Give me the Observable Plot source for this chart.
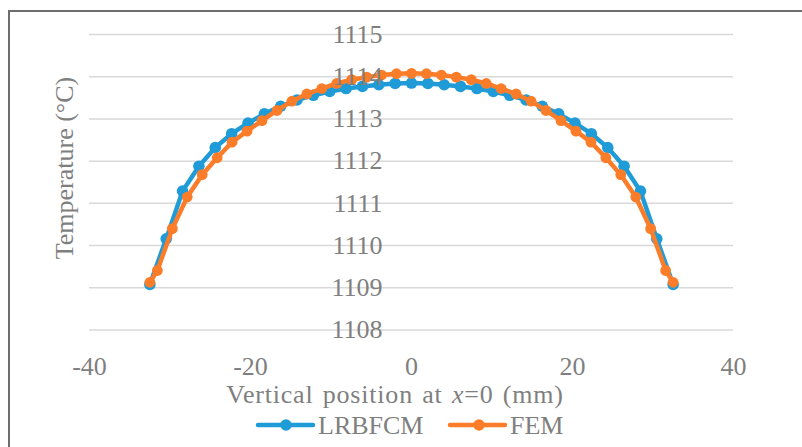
<!DOCTYPE html>
<html>
<head>
<meta charset="utf-8">
<script src="https://cdn.jsdelivr.net/npm/d3@7"></script>
<script src="https://cdn.jsdelivr.net/npm/@observablehq/plot@0.6"></script>
<style>
  html, body { margin: 0; padding: 0; background: #fff; }
  body { width: 802px; height: 447px; overflow: hidden; position: relative; font-family: "Liberation Serif", serif; color: #7f7f7f; }
  #frame { position: absolute; left: 8px; top: 10px; width: 900px; height: 500px; border: 2px solid #6e6e6e; box-sizing: border-box; }
  #chart { position: absolute; left: 0; top: 0; }
  .title { position: absolute; font-size: 26px; line-height: 26px; white-space: nowrap; color: #7f7f7f; }
  #xtitle { left: 0; width: 790px; text-align: center; top: 382px; letter-spacing: 0.8px; word-spacing: 2px; }
  #ytitle { left: 65px; top: 168px; transform: translate(-50%, -50%) rotate(-90deg); }
  #legend { position: absolute; left: 0; top: 410px; }
</style>
</head>
<body>
<div id="frame"></div>
<div id="chart"></div>
<div class="title" id="xtitle">Vertical position at <i>x</i>=0 (mm)</div>
<div class="title" id="ytitle">Temperature (°C)</div>
<div id="legend"></div>
<script>
const seriesNames = ["LRBFCM", "FEM"];
const seriesColors = ["#1f9bd7", "#fb7d29"];
const xTicks = [-40, -20, 0, 20, 40];
const yTicks = [1108, 1109, 1110, 1111, 1112, 1113, 1114, 1115];

const lrbfcmX = [-32.5, -30.47, -28.44, -26.41, -24.38, -22.34, -20.31, -18.28, -16.25, -14.22, -12.19, -10.16, -8.13, -6.09, -4.06, -2.03, 0,
                 2.03, 4.06, 6.09, 8.13, 10.16, 12.19, 14.22, 16.25, 18.28, 20.31, 22.34, 24.38, 26.41, 28.44, 30.47, 32.5];
const lrbfcmT = [1109.08, 1110.16, 1111.29, 1111.88, 1112.32, 1112.65, 1112.90, 1113.12, 1113.30, 1113.45, 1113.56, 1113.65, 1113.72, 1113.77, 1113.81, 1113.84, 1113.85,
                 1113.84, 1113.81, 1113.77, 1113.72, 1113.65, 1113.56, 1113.45, 1113.30, 1113.12, 1112.90, 1112.65, 1112.32, 1111.88, 1111.29, 1110.16, 1109.08];

const femX = [-32.5, -31.57, -29.71, -27.86, -26.0, -24.14, -22.29, -20.43, -18.57, -16.71, -14.86, -13.0, -11.14, -9.29, -7.43, -5.57, -3.71, -1.86, 0,
              1.86, 3.71, 5.57, 7.43, 9.29, 11.14, 13.0, 14.86, 16.71, 18.57, 20.43, 22.29, 24.14, 26.0, 27.86, 29.71, 31.57, 32.5];
const femT = [1109.13, 1109.41, 1110.40, 1111.15, 1111.68, 1112.08, 1112.45, 1112.71, 1112.96, 1113.20, 1113.42, 1113.59, 1113.72, 1113.84, 1113.93, 1113.99, 1114.04, 1114.07, 1114.08,
              1114.07, 1114.04, 1113.99, 1113.93, 1113.84, 1113.72, 1113.59, 1113.42, 1113.20, 1112.96, 1112.71, 1112.45, 1112.08, 1111.68, 1111.15, 1110.40, 1109.41, 1109.13];

const lrbfcm = lrbfcmX.map((x, i) => ({x, t: lrbfcmT[i]}));
const fem = femX.map((x, i) => ({x, t: femT[i]}));

const chart = Plot.plot({
  width: 802,
  height: 400,
  marginTop: 34,
  marginBottom: 70.5,
  marginLeft: 89,
  marginRight: 69,
  x: {domain: [-40, 40], axis: null},
  y: {domain: [1108, 1115], axis: null},
  style: {fontFamily: "Liberation Serif", fontSize: "26px", background: "transparent", overflow: "visible"},
  marks: [
    Plot.ruleY(yTicks, {y: d => d, stroke: "#d9d9d9", strokeWidth: 1.5}),
    Plot.line(lrbfcm, {x: "x", y: "t", stroke: seriesColors[0], strokeWidth: 4.5}),
    Plot.dot(lrbfcm, {x: "x", y: "t", r: 5.8, fill: seriesColors[0], stroke: "none"}),
    Plot.line(fem, {x: "x", y: "t", stroke: seriesColors[1], strokeWidth: 4.5}),
    Plot.dot(fem, {x: "x", y: "t", r: 5.4, fill: seriesColors[1], stroke: "none"}),
    Plot.text(yTicks, {x: 0, y: d => d, text: d => String(d), dx: -29, textAnchor: "end", fill: "#7f7f7f", fontSize: 26}),
    Plot.text(xTicks, {x: d => d, y: 1108, dy: 37, text: d => String(d), fill: "#7f7f7f", fontSize: 26})
  ]
});
document.getElementById("chart").appendChild(chart);

// legend
const lg = d3.select("#legend").append("svg").attr("width", 802).attr("height", 30);
const legendItems = [
  {name: seriesNames[0], color: seriesColors[0], x0: 258, x1: 313, cx: 286, tx: 318},
  {name: seriesNames[1], color: seriesColors[1], x0: 450, x1: 505, cx: 479, tx: 510}
];
for (const it of legendItems) {
  lg.append("line").attr("x1", it.x0).attr("x2", it.x1).attr("y1", 15).attr("y2", 15)
    .attr("stroke", it.color).attr("stroke-width", 4.5).attr("stroke-linecap", "round");
  lg.append("circle").attr("cx", it.cx).attr("cy", 15).attr("r", 5.8).attr("fill", it.color);
  lg.append("text").attr("x", it.tx).attr("y", 15).attr("dominant-baseline", "central")
    .attr("font-family", "Liberation Serif").attr("font-size", 26).attr("fill", "#7f7f7f").text(it.name);
}
</script>
</body>
</html>
